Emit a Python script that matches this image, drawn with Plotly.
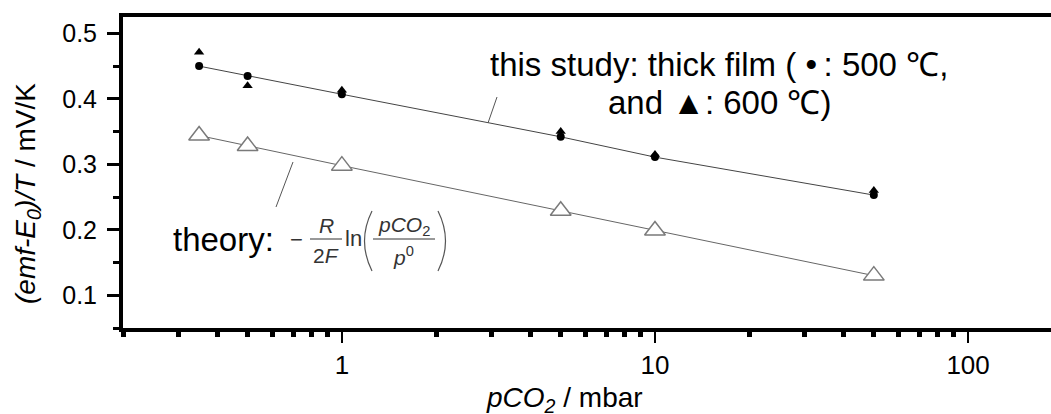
import math
import plotly.graph_objects as go

# ---- data ----
pco2_mbar = [0.35, 0.5, 1, 5, 10, 50]
emf_500C = [0.450, 0.435, 0.407, 0.342, 0.311, 0.253]
emf_600C = [0.471, 0.420, 0.413, 0.350, 0.315, 0.260]
emf_theory = [0.344, 0.328, 0.298, 0.229, 0.199, 0.130]

x_major = [1, 10, 100]
x_major_text = ["1", "10", "100"]
x_minor = [0.2, 0.3, 0.4, 0.5, 0.6, 0.7, 0.8, 0.9,
           2, 3, 4, 5, 6, 7, 8, 9,
           20, 30, 40, 50, 60, 70, 80, 90]
y_major = [0.1, 0.2, 0.3, 0.4, 0.5]
y_major_text = ["0.1", "0.2", "0.3", "0.4", "0.5"]

# ---- layout geometry (pixels) ----
FW, FH = 1051, 414
L, R, T, B = 123, 1051, 17, 328
PW, PH = R - L, B - T


def px(x):
    return (x - L) / PW


def py(y):
    return (B - y) / PH


FONT = "Liberation Sans, Arial, Helvetica, sans-serif"

fig = go.Figure()

fig.add_trace(go.Scatter(
    x=pco2_mbar, y=emf_theory, mode="lines+markers",
    line=dict(color="#666666", width=1),
    marker=dict(symbol="triangle-up", size=18, color="white",
                line=dict(color="#7a7a7a", width=1.5)),
    showlegend=False, cliponaxis=False))

fig.add_trace(go.Scatter(
    x=pco2_mbar, y=emf_500C, mode="lines+markers",
    line=dict(color="#444444", width=1),
    marker=dict(symbol="circle", size=8, color="black"),
    showlegend=False, cliponaxis=False))

fig.add_trace(go.Scatter(
    x=pco2_mbar, y=emf_600C, mode="markers",
    marker=dict(symbol="triangle-up", size=9, color="black"),
    showlegend=False, cliponaxis=False))

fig.update_xaxes(
    type="log", range=[math.log10(0.2), math.log10(184)],
    tickvals=x_major, ticktext=x_major_text,
    ticks="outside", ticklen=11, tickwidth=2, tickcolor="black",
    minor=dict(tickvals=x_minor, ticks="outside", ticklen=5,
               tickwidth=5, tickcolor="black", showgrid=False),
    showline=True, linewidth=4, linecolor="black", mirror=True,
    showgrid=False, zeroline=False, ticklabelstandoff=0,
    tickfont=dict(family=FONT, size=26, color="black"))

fig.update_yaxes(
    range=[0.05, 0.525],
    tickvals=y_major, ticktext=y_major_text,
    ticks="outside", ticklen=12, tickwidth=3, tickcolor="black",
    minor=dict(dtick=0.05, tick0=0.05, ticks="outside", ticklen=6,
               tickwidth=3, tickcolor="black", showgrid=False),
    showline=True, linewidth=4, linecolor="black",
    showgrid=False, zeroline=False, ticklabelstandoff=5,
    tickfont=dict(family=FONT, size=25, color="black"))

ann = []


def text(s, x, y, size, xanchor="left", color="black", angle=0):
    ann.append(dict(text=s, x=px(x), y=py(y), xref="paper", yref="paper",
                    xanchor=xanchor, yanchor="middle", showarrow=False,
                    textangle=angle,
                    font=dict(family=FONT, size=size, color=color)))


# axis titles
text("<i>(emf-E<sub>0</sub>)/T</i> / mV/K", 27, 194, 28, xanchor="center", angle=-90)
text("<i>pCO<sub>2</sub></i> / mbar", 564, 399, 28, xanchor="center")

# this-study label
text("this study: thick film ( \u2022\u2009: 500 \u2103,", 488, 64, 33)
text("and \u25B2: 600 \u2103)", 606, 102, 33)

# theory label with formula
FC = "#333333"
text("theory:", 171, 239, 33)
text("\u2212", 296, 239, 22, xanchor="center", color=FC)
text("<i>R</i>", 326, 225, 21, xanchor="center", color=FC)
text("2<i>F</i>", 326, 255, 21, xanchor="center", color=FC)
text("ln", 343, 238, 22, color=FC)
text("<i>pCO</i><sub>2</sub>", 404, 226, 21, xanchor="center", color=FC)
text("<i>p</i><sup>0</sup>", 403, 256, 21, xanchor="center", color=FC)
fig.update_layout(annotations=ann)

shapes = []
# fraction bars
for x0, x1 in [(310, 342), (373, 435)]:
    shapes.append(dict(type="line", xref="paper", yref="paper",
                       x0=px(x0), x1=px(x1), y0=py(239), y1=py(239),
                       line=dict(color=FC, width=1)))
# parentheses (thin curves)
shapes.append(dict(type="path", xref="paper", yref="paper",
                   path=f"M {px(372)},{py(211)} Q {px(357)},{py(241)} {px(372)},{py(271)}",
                   line=dict(color="#555555", width=1.2)))
shapes.append(dict(type="path", xref="paper", yref="paper",
                   path=f"M {px(438)},{py(211)} Q {px(453)},{py(241)} {px(438)},{py(271)}",
                   line=dict(color="#555555", width=1.2)))
# leader lines
shapes.append(dict(type="line", xref="paper", yref="paper",
                   x0=px(293), y0=py(162), x1=px(276), y1=py(207),
                   line=dict(color="#555555", width=1)))
shapes.append(dict(type="line", xref="paper", yref="paper",
                   x0=px(497), y0=py(97), x1=px(488), y1=py(123),
                   line=dict(color="#555555", width=1)))
fig.update_layout(shapes=shapes)

fig.update_layout(
    width=FW, height=FH,
    margin=dict(l=L, r=FW - R, t=T, b=FH - B, pad=0),
    paper_bgcolor="white", plot_bgcolor="white",
    font=dict(family=FONT, color="black"),
)

fig.write_html("out.html")
